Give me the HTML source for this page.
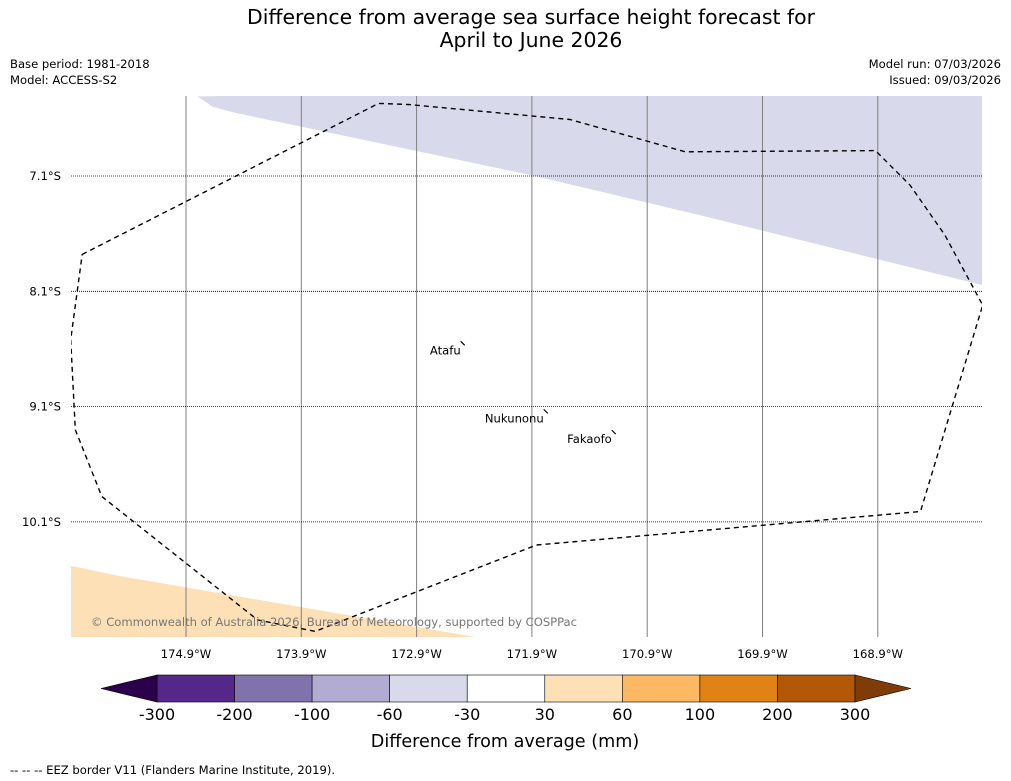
<!DOCTYPE html>
<html><head><meta charset="utf-8"><style>
body{margin:0;background:#fff;font-family:"Liberation Sans","DejaVu Sans",sans-serif}
svg{display:block}
</style></head><body>
<svg id="c" width="1011" height="781" viewBox="0 0 1011 781" xmlns="http://www.w3.org/2000/svg" font-family="DejaVu Sans, Liberation Sans, sans-serif">
<text x="531" y="24" font-size="20.4" text-anchor="middle">Difference from average sea surface height forecast for</text>
<text x="531" y="47" font-size="20.4" text-anchor="middle">April to June 2026</text>
<text x="10" y="68" font-size="11.6">Base period: 1981-2018</text>
<text x="10" y="84" font-size="11.6">Model: ACCESS-S2</text>
<text x="1001" y="68" font-size="11.6" text-anchor="end">Model run: 07/03/2026</text>
<text x="1001" y="84" font-size="11.6" text-anchor="end">Issued: 09/03/2026</text>
<defs><clipPath id="mapclip"><rect x="71" y="96" width="911" height="541"/></clipPath></defs>
<g id="map" clip-path="url(#mapclip)"></g>
<g id="axes"></g>
<g id="cbar"></g>
<text x="505" y="747" font-size="17.6" text-anchor="middle">Difference from average (mm)</text>
<text x="10" y="774" font-size="11.6">--  --  -- EEZ border V11 (Flanders Marine Institute, 2019).</text>
</svg>
<script>
const lonTicks=[-174.9,-173.9,-172.9,-171.9,-170.9,-169.9,-168.9];
const latTicks=[-7.1,-8.1,-9.1,-10.1];
const eezLon=[-175.80,-173.23,-172.97,-171.57,-170.57,-168.92,-168.62,-168.32,-167.99,-168.53,-171.86,-173.78,-174.28,-175.63,-175.86,-175.90];
const eezLat=[-7.78,-6.47,-6.48,-6.61,-6.89,-6.88,-7.18,-7.61,-8.22,-10.01,-10.30,-11.05,-10.95,-9.88,-9.30,-8.52];
const negLon=[-174.80,-174.67,-174.48,-171.92,-170.44,-167.90,-167.90];
const negLat=[-6.41,-6.50,-6.55,-7.09,-7.44,-8.07,-6.30];
const posLon=[-176,-175.47,-172.38,-172.2,-176];
const posLat=[-10.46,-10.57,-11.10,-11.2,-11.2];
const islandNames=["Atafu","Nukunonu","Fakaofo"];
const islandLon=[-172.50,-171.78,-171.19];
const islandLat=[-8.56,-9.15,-9.33];
const cbLevels=[-300,-200,-100,-60,-30,30,60,100,200,300];
const cbColors=["#542788","#8073ac","#b2abd2","#d8daeb","#ffffff","#fee0b6","#fdb863","#e08214","#b35806"];
const cbUnder="#2d004b", cbOver="#7f3b08";

const NS="http://www.w3.org/2000/svg";
const X=lon=>186+(lon+174.9)*115.3;
const Y=lat=>176-(lat+7.1)*115.3;
function mk(t,a,p){const e=document.createElementNS(NS,t);for(const k in a)e.setAttribute(k,a[k]);p.appendChild(e);return e;}
const map=document.getElementById('map'),axes=document.getElementById('axes'),cb=document.getElementById('cbar');
function pts(lo,la){return lo.map((v,i)=>X(v).toFixed(1)+','+Y(la[i]).toFixed(1)).join(' ');}
let p=mk('polygon',{points:pts(negLon,negLat),fill:'#d8daeb'},map);


p=mk('polygon',{points:pts(posLon,posLat),fill:'#fee0b6'},map);


lonTicks.forEach(v=>{
 const l=mk('line',{x1:X(v),x2:X(v),y1:96,y2:637,stroke:'#808080','stroke-width':1},map);
 
 
 const t=mk('text',{x:X(v),y:658,'font-size':11.6,'text-anchor':'middle'},axes);
 t.textContent=Math.abs(v).toFixed(1)+'°W';
 
 
});
latTicks.forEach(v=>{
 const l=mk('line',{x1:71,x2:982,y1:Y(v),y2:Y(v),stroke:'#000','stroke-width':0.8,'stroke-dasharray':'1,1'},map);
 
 
 const t=mk('text',{x:61,y:Y(v)+4,'font-size':11.6,'text-anchor':'end'},axes);
 t.textContent=Math.abs(v).toFixed(1)+'°S';
 
 
});
p=mk('polygon',{points:pts(eezLon,eezLat),fill:'none',stroke:'#000','stroke-width':1.4,'stroke-dasharray':'5,4'},map);


islandNames.forEach((n,i)=>{
 const x=X(islandLon[i]),y=Y(islandLat[i]);
 const l=mk('line',{x1:x-2,y1:y-3,x2:x+2,y2:y+1,stroke:'#000','stroke-width':1.2},map);
 
 
 const t=mk('text',{x:x-2,y:y+10,'font-size':11.6,'text-anchor':'end'},map);
 t.textContent=n;
 
 
});
const cr=mk('text',{x:91,y:626,'font-size':11.6,fill:'#777',textLength:486},axes);
cr.textContent='© Commonwealth of Australia 2026, Bureau of Meteorology, supported by COSPPac';


const cx0=157,cx1=855,cy=675,ch=27,bw=(cx1-cx0)/cbColors.length;
cbColors.forEach((c,i)=>{
 const r=mk('rect',{x:cx0+i*bw,y:cy,width:bw,height:ch,fill:c,stroke:'#000','stroke-width':0.6},cb);
 
 
});
p=mk('polygon',{points:`${cx0},${cy} ${cx0-56},${cy+ch/2} ${cx0},${cy+ch}`,fill:cbUnder,stroke:'#000','stroke-width':0.6},cb);


p=mk('polygon',{points:`${cx1},${cy} ${cx1+56},${cy+ch/2} ${cx1},${cy+ch}`,fill:cbOver,stroke:'#000','stroke-width':0.6},cb);


cbLevels.forEach((v,i)=>{
 const t=mk('text',{x:cx0+i*bw,y:720,'font-size':16,'text-anchor':'middle'},cb);
 t.textContent=v;
 
 
});
</script>
</body></html>
